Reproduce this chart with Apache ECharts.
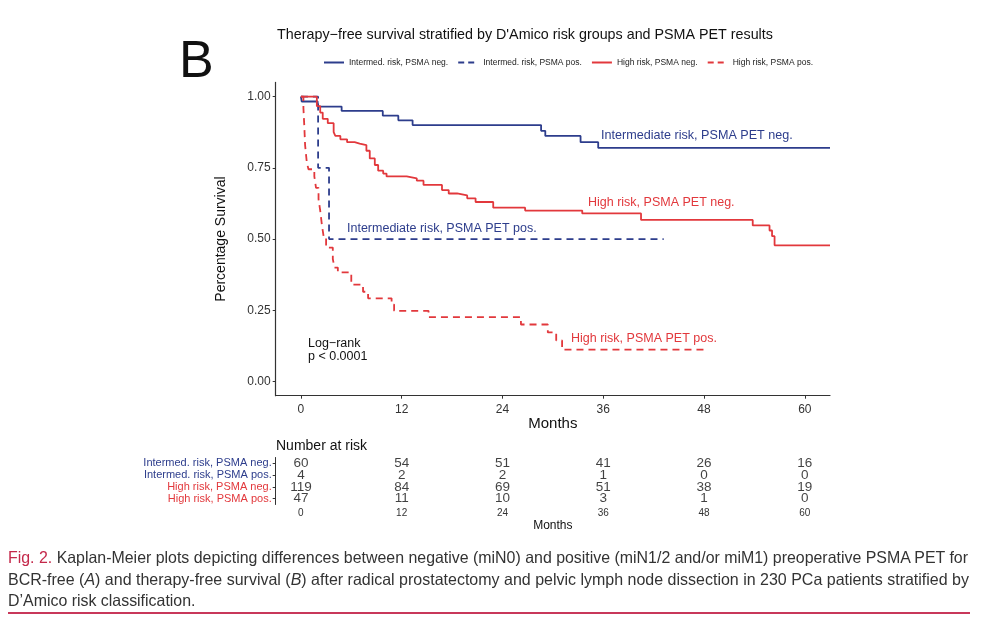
<!DOCTYPE html>
<html>
<head>
<meta charset="utf-8">
<script src="https://cdn.jsdelivr.net/npm/echarts@6/dist/echarts.min.js"></script>
<style>
  html, body { margin: 0; padding: 0; background: #fff; }
  #chart { width: 993px; height: 627px; }
  .cap {
    position: absolute; left: 8px; white-space: nowrap; transform-origin: 0 50%;
    font-family: "Liberation Sans", Arial, sans-serif;
    font-size: 16.5px; line-height: 20px; color: #333;
  }
  .cap b { color: #c4284a; font-weight: normal; }
  #rule { position: absolute; left: 8px; top: 612px; width: 962px; height: 2px; background: #c8385a; }
</style>
</head>
<body>
<div id="chart"></div>
<div class="cap" id="cap1" style="top:547px"><b>Fig. 2.</b> Kaplan-Meier plots depicting differences between negative (miN0) and positive (miN1/2 and/or miM1) preoperative PSMA PET for</div>
<div class="cap" id="cap2" style="top:569px">BCR-free (<i>A</i>) and therapy-free survival (<i>B</i>) after radical prostatectomy and pelvic lymph node dissection in 230 PCa patients stratified by</div>
<div class="cap" id="cap3" style="top:590px">D’Amico risk classification.</div>
<div id="rule"></div>
<script>
// survival curves: [month, survival after event]
var intNeg = [[0,1],[0.1,0.983],[2,0.965],[4.85,0.95],[9.75,0.933],[11.6,0.917],[13.3,0.9],
  [28.6,0.88],[29.1,0.862],[33.3,0.84],[35.4,0.82],[63,0.82]];
var intPos = [[0,1],[2.05,0.75],[3.35,0.5],[43.2,0.5]];
var highNeg = [[0,1],[1.9,0.967],[2.3,0.944],[2.6,0.922],[3.2,0.907],[3.9,0.875],[4.1,0.862],
  [4.7,0.85],[5.5,0.84],[6.4,0.835],[7.0,0.83],[7.8,0.81],[8.2,0.783],[8.8,0.76],[9.2,0.74],
  [9.8,0.73],[10.2,0.72],[12.6,0.713],[13.8,0.705],[14.6,0.69],[16.8,0.672],[17.6,0.66],
  [18.6,0.653],[19.8,0.643],[20.8,0.63],[22.9,0.61],[26.7,0.6],[33.5,0.59],[40.5,0.567],
  [53.8,0.548],[55.8,0.53],[56.1,0.51],[56.4,0.478],[63,0.478]];
var highPos = [[0,1],[0.3,0.96],[0.4,0.9],[0.5,0.83],[0.7,0.77],[0.9,0.745],[1.6,0.72],
  [1.8,0.68],[2.1,0.64],[2.3,0.6],[2.5,0.55],[2.7,0.51],[3.0,0.47],[3.8,0.43],[4.0,0.4],
  [4.4,0.383],[6.0,0.34],[7.4,0.315],[8.0,0.292],[10.8,0.27],[11.1,0.248],[15.2,0.226],
  [26.2,0.2],[29.4,0.172],[30.4,0.144],[31.1,0.112],[48.2,0.112]];

// number at risk table
var months = [0, 12, 24, 36, 48, 60];
var yTicks = [0, 0.25, 0.5, 0.75, 1];
var riskRows = ['Intermed. risk, PSMA neg.', 'Intermed. risk, PSMA pos.', 'High risk, PSMA neg.', 'High risk, PSMA pos.'];
var atRiskIntNeg = [60, 54, 51, 41, 26, 16];
var atRiskIntPos = [4, 2, 2, 1, 0, 0];
var atRiskHighNeg = [119, 84, 69, 51, 38, 19];
var atRiskHighPos = [47, 11, 10, 3, 1, 0];

var legendNames = ['Intermed. risk, PSMA neg.', 'Intermed. risk, PSMA pos.', 'High risk, PSMA neg.', 'High risk, PSMA pos.'];

var BLUE = '#2d3d8c';
var RED = '#e2383c';
var FONT = '"Liberation Sans", Arial, sans-serif';

function kmSeries(name, data, color, dashed) {
  return {
    name: name, type: 'line', step: 'end', data: data,
    xAxisIndex: 0, yAxisIndex: 0,
    symbol: 'none', silent: true,
    lineStyle: { color: color, width: 1.8, type: dashed ? [7, 5] : 'solid' },
    itemStyle: { color: color }
  };
}

function tableSeries(row, counts) {
  return {
    type: 'scatter', xAxisIndex: 1, yAxisIndex: 1,
    symbolSize: 0.1, itemStyle: { color: 'rgba(0,0,0,0)' }, silent: true,
    data: months.map(function (m, i) { return [m, row, counts[i]]; }),
    label: {
      show: true, position: 'inside', color: '#111', fontSize: 13.5, fontFamily: FONT,
      formatter: function (p) { return p.data[2]; }
    }
  };
}

var chart = echarts.init(document.getElementById('chart'));
var options = {
  animation: false,
  textStyle: { fontFamily: FONT },
  title: {
    text: 'Therapy\u2212free survival stratified by D\'Amico risk groups and PSMA PET results',
    left: 520, top: 23, textAlign: 'center',
    textStyle: { fontSize: 14.3, fontWeight: 'normal', color: '#111', fontFamily: FONT }
  },
  legend: {
    top: 53, left: 318, itemWidth: 20, itemHeight: 6, itemGap: 9,
    itemStyle: { opacity: 0 },
    textStyle: { fontSize: 8.5, color: '#222', fontFamily: FONT },
    data: [
      { name: legendNames[0] },
      { name: legendNames[1], lineStyle: { type: [6, 4] } },
      { name: legendNames[2] },
      { name: legendNames[3], lineStyle: { type: [6, 4] } }
    ]
  },
  grid: [
    { left: 275.7, right: 163, top: 82.4, bottom: 231.3 },
    { left: 275.7, right: 163, top: 457.5, bottom: 122.5 }
  ],
  xAxis: [
    {
      gridIndex: 0, type: 'value', min: -3, max: 63,
      name: 'Months', nameLocation: 'middle', nameGap: 19,
      nameTextStyle: { fontSize: 15, color: '#111' },
      axisLine: { onZero: false, lineStyle: { color: '#333', width: 1.2 } },
      axisTick: { length: 3, lineStyle: { color: '#333' }, customValues: months },
      axisLabel: { fontSize: 12, color: '#333', margin: 8, customValues: months },
      splitLine: { show: false }
    },
    {
      gridIndex: 1, type: 'value', min: -3, max: 63,
      name: 'Months', nameLocation: 'middle', nameGap: 15,
      nameTextStyle: { fontSize: 12, color: '#111' },
      axisLine: { onZero: false, lineStyle: { color: '#111', width: 1.5 } },
      axisTick: { length: 3, lineStyle: { color: '#333' }, customValues: months },
      axisLabel: { fontSize: 10, color: '#333', margin: 4, customValues: months },
      splitLine: { show: false }
    }
  ],
  yAxis: [
    {
      gridIndex: 0, type: 'value', min: -0.05, max: 1.05,
      name: 'Percentage Survival', nameLocation: 'middle', nameGap: 48,
      nameTextStyle: { fontSize: 14, color: '#111' },
      axisLine: { show: true, onZero: false, lineStyle: { color: '#333', width: 1.2 } },
      axisTick: { show: true, length: 3, lineStyle: { color: '#333' }, customValues: yTicks },
      axisLabel: {
        fontSize: 12, color: '#333', margin: 5, customValues: yTicks,
        formatter: function (v) { return v.toFixed(2); }
      },
      splitLine: { show: false }
    },
    {
      gridIndex: 1, type: 'category', data: riskRows, inverse: true,
      axisLine: { show: true, onZero: false, lineStyle: { color: '#333', width: 1 } },
      axisTick: { show: true, length: 3, interval: 0, alignWithLabel: true, lineStyle: { color: '#333' } },
      axisLabel: {
        fontSize: 11, margin: 4, interval: 0,
        color: function (v) { return v.indexOf('High') === 0 ? RED : BLUE; }
      }
    }
  ],
  graphic: [
    { type: 'text', x: 179, y: 63, style: { text: 'B', font: '52px ' + FONT, fill: '#111', textVerticalAlign: 'middle' } },
    { type: 'text', x: 601, y: 136, style: { text: 'Intermediate risk, PSMA PET neg.', font: '12.6px ' + FONT, fill: BLUE, textVerticalAlign: 'middle' } },
    { type: 'text', x: 588, y: 203, style: { text: 'High risk, PSMA PET neg.', font: '12.5px ' + FONT, fill: RED, textVerticalAlign: 'middle' } },
    { type: 'text', x: 347, y: 229, style: { text: 'Intermediate risk, PSMA PET pos.', font: '12.5px ' + FONT, fill: BLUE, textVerticalAlign: 'middle' } },
    { type: 'text', x: 571, y: 339, style: { text: 'High risk, PSMA PET pos.', font: '12.5px ' + FONT, fill: RED, textVerticalAlign: 'middle' } },
    { type: 'text', x: 308, y: 344, style: { text: 'Log\u2212rank', font: '12.5px ' + FONT, fill: '#111', textVerticalAlign: 'middle' } },
    { type: 'text', x: 308, y: 357, style: { text: 'p < 0.0001', font: '12.5px ' + FONT, fill: '#111', textVerticalAlign: 'middle' } },
    { type: 'text', x: 276, y: 446, style: { text: 'Number at risk', font: '14px ' + FONT, fill: '#111', textVerticalAlign: 'middle' } }
  ],
  series: [
    kmSeries(legendNames[0], intNeg, BLUE, false),
    kmSeries(legendNames[1], intPos, BLUE, true),
    kmSeries(legendNames[2], highNeg, RED, false),
    kmSeries(legendNames[3], highPos, RED, true),
    tableSeries(riskRows[0], atRiskIntNeg),
    tableSeries(riskRows[1], atRiskIntPos),
    tableSeries(riskRows[2], atRiskHighNeg),
    tableSeries(riskRows[3], atRiskHighPos)
  ]
};
chart.setOption(options);

// squeeze caption lines to the reference widths (lines 1-2 justified, line 3 same scale as line 1)
var cap1 = document.getElementById('cap1');
var cap2 = document.getElementById('cap2');
var cap3 = document.getElementById('cap3');
var s1 = 960 / cap1.getBoundingClientRect().width;
var s2 = 961 / cap2.getBoundingClientRect().width;
cap1.style.transform = 'scaleX(' + s1 + ')';
cap2.style.transform = 'scaleX(' + s2 + ')';
cap3.style.transform = 'scaleX(' + s1 + ')';
</script>
</body>
</html>
